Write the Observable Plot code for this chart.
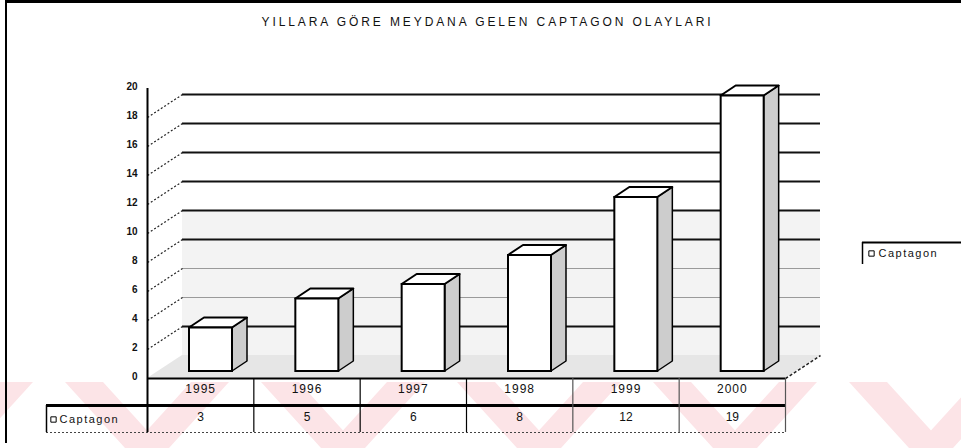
<!DOCTYPE html>
<html>
<head>
<meta charset="utf-8">
<script src="https://cdn.jsdelivr.net/npm/d3@7"></script>
<script src="https://cdn.jsdelivr.net/npm/@observablehq/plot@0.6"></script>
<style>
  html, body { margin: 0; padding: 0; background: #fff; }
  #wrap { position: relative; width: 961px; height: 448px; overflow: hidden; background: #fff; }
  #wm {
    position: absolute; left: 0; top: 382px; width: 961px; height: 66px;
    background-image: url("data:image/svg+xml,%3Csvg xmlns='http://www.w3.org/2000/svg' width='196' height='66'%3E%3Cpolygon points='16,0 54,0 114,66 76,66' fill='%23fce4e7'/%3E%3Cpolygon points='180,0 142,0 82,66 120,66' fill='%23fce4e7'/%3E%3C/svg%3E");
    background-repeat: repeat-x;
    background-position: 49px 0;
  }
  #chart { position: absolute; left: 0; top: 0; }
  #border {
    position: absolute; left: 5px; top: 0; width: 956px; height: 443px;
    border-top: 3px solid #000; border-left: 2px solid #000; box-sizing: border-box;
    pointer-events: none;
  }
</style>
</head>
<body>
<div id="wrap">
  <div id="wm"></div>
  <div id="chart"></div>
  <div id="border"></div>
</div>
<script>
// ---------- data ----------
const title = "YILLARA GÖRE MEYDANA GELEN CAPTAGON OLAYLARI";
const seriesName = "Captagon";
const years = ["1995", "1996", "1997", "1998", "1999", "2000"];
const captagon = [3, 5, 6, 8, 12, 19];
const yTicks = [0, 2, 4, 6, 8, 10, 12, 14, 16, 18, 20];
const gridValues = [2, 4, 6, 8, 10, 12, 14, 16, 18];

// ---------- layout (pixels) ----------
const W = 961, H = 448;
const mL = 147, mR = 176, mT = 88, mB = 70;
const yMax = 20;
const pxX = (W - mL - mR) / years.length;   // px per category
const pxY = (H - mT - mB) / yMax;           // px per unit
const ux = p => p / pxX, uy = p => p / pxY; // pixel offsets -> data units

const WALL_DX = 35, WALL_DY = 23;           // depth of the 3D box
const PLANE_DX = 12, PLANE_DY = 7;          // bar plane inside the box
const BAR_L = 30, BAR_R = 73;               // bar front face inside a slot
const BAR_DX = 15, BAR_DY = 10;             // bar depth
const kx = ux(WALL_DX), ky = uy(WALL_DY);

const ROW1 = 27, ROW2 = 54, KEY_W = 101;

const bars = years.map((year, i) => {
  const v = captagon[i];
  const xl = i + ux(BAR_L + PLANE_DX), xr = i + ux(BAR_R + PLANE_DX);
  const yb = uy(PLANE_DY), yt = v + uy(PLANE_DY);
  return {year, v, xl, xr, yb, yt};
});
const sidePts = bars.flatMap(b => [
  {year: b.year, x: b.xr, y1: b.yb, y2: b.yt},
  {year: b.year, x: b.xr + ux(BAR_DX), y1: b.yb + uy(BAR_DY), y2: b.yt + uy(BAR_DY)}
]);
const topPts = bars.flatMap(b => [
  {year: b.year, y: b.yt, x1: b.xl, x2: b.xr},
  {year: b.year, y: b.yt + uy(BAR_DY), x1: b.xl + ux(BAR_DX), x2: b.xr + ux(BAR_DX)}
]);
const floorPts = [
  {y: 0, x1: 0, x2: years.length},
  {y: ky, x1: kx, x2: years.length + kx}
];

const font = "'Liberation Sans', Arial, sans-serif";
const n = years.length;
const isLight = d => d === 4 || d === 6;

const chart = Plot.plot({
  width: W, height: H,
  marginLeft: mL, marginRight: mR, marginTop: mT, marginBottom: mB,
  x: {domain: [0, n], axis: null},
  y: {domain: [0, yMax], axis: null},
  style: {fontFamily: font, fontSize: "11px", color: "#111", background: "transparent", overflow: "visible"},
  marks: [
    // back wall (lower, speckled part)
    Plot.rect([0], {x1: kx, x2: n + kx, y1: ky, y2: 10 + ky, fill: "#f3f3f3"}),
    // floor
    Plot.areaX(floorPts, {y: "y", x1: "x1", x2: "x2", fill: "#e6e6e6"}),
    // back-wall gridlines
    Plot.ruleY(gridValues, {
      y: d => d + ky, x1: kx, x2: n + kx,
      stroke: d => isLight(d) ? "#9a9a9a" : "#111",
      strokeWidth: d => isLight(d) ? 1 : 2,
      strokeDasharray: d => isLight(d) ? "3,2" : null
    }),
    // side-wall gridlines
    Plot.link(gridValues, {x1: 0, y1: d => d, x2: kx, y2: d => d + ky, stroke: "#222", strokeWidth: 1.2, strokeDasharray: "2,2"}),
    // floor right edge
    Plot.link([0], {x1: n, y1: 0, x2: n + kx, y2: ky, stroke: "#222", strokeWidth: 1.5, strokeDasharray: "3,2"}),
    // bars: side, top, front
    Plot.areaY(sidePts, {x: "x", y1: "y1", y2: "y2", z: "year", fill: "#cdcdcd", stroke: "#000", strokeWidth: 1.5}),
    Plot.areaX(topPts, {y: "y", x1: "x1", x2: "x2", z: "year", fill: "#fff", stroke: "#000", strokeWidth: 2}),
    Plot.rect(bars, {x1: "xl", x2: "xr", y1: "yb", y2: "yt", fill: "#fff", stroke: "#000", strokeWidth: 2}),
    // value axis
    Plot.ruleX([0], {y1: -uy(ROW2), y2: yMax, stroke: "#000", strokeWidth: 2}),
    Plot.text(yTicks, {x: 0, y: d => d, text: d => String(d), dx: -10, dy: -2, textAnchor: "end", fontWeight: "bold", fontSize: 10}),
    // data table
    Plot.ruleY([0], {x1: 0, x2: n, stroke: "#000", strokeWidth: 2}),
    Plot.ruleY([-uy(ROW1)], {x1: -ux(KEY_W), x2: n, stroke: "#000", strokeWidth: 3}),
    Plot.ruleY([-uy(ROW2)], {x1: -ux(KEY_W), x2: n, stroke: "#444", strokeWidth: 1, strokeDasharray: "2,2"}),
    Plot.ruleX(d3.range(1, n + 1), {y1: -uy(ROW2), y2: 0, stroke: d => d >= 4 ? "#555" : "#000", strokeWidth: 1.2, strokeDasharray: d => d >= 4 ? "2,1" : null}),
    Plot.ruleX([-ux(KEY_W)], {y1: -uy(ROW2), y2: -uy(ROW1), stroke: "#000", strokeWidth: 1.5}),
    Plot.text(years, {x: (d, i) => i + 0.5, frameAnchor: "bottom", dy: 14, text: d => d, fontSize: 12}),
    Plot.text(captagon, {x: (d, i) => i + 0.5, frameAnchor: "bottom", dy: 42, text: d => String(d), fontSize: 12}),
    Plot.dot([0], {x: -ux(KEY_W - 7), y: -uy(41), symbol: "square", r: 3, fill: "#fff", stroke: "#000", strokeWidth: 1}),
    Plot.text([seriesName], {x: -ux(KEY_W - 13), y: -uy(41), text: d => d, textAnchor: "start", fontSize: 11}),
    // legend (right)
    Plot.ruleY([uy(H - mB - 242)], {x1: ux(862 - mL), x2: ux(W - mL), stroke: "#000", strokeWidth: 2}),
    Plot.ruleX([ux(862 - mL)], {y1: uy(H - mB - 264), y2: uy(H - mB - 242), stroke: "#000", strokeWidth: 1.5}),
    Plot.dot([0], {x: ux(871 - mL), y: uy(H - mB - 253), symbol: "square", r: 3, fill: "#fff", stroke: "#000", strokeWidth: 1}),
    Plot.text([seriesName], {x: ux(878 - mL), y: uy(H - mB - 253), text: d => d, textAnchor: "start", fontSize: 11}),
    // title
    Plot.text([title], {frameAnchor: "top", dx: 21, dy: -71, text: d => d, fontSize: 12})
  ]
});
document.getElementById("chart").appendChild(chart);

// letter spacing to mimic the wide scanned lettering
const svg = d3.select(chart);
svg.selectAll("text").each(function () {
  const t = this.textContent;
  const s = d3.select(this);
  if (t === title) s.style("letter-spacing", "2.9px");
  else if (t === seriesName) s.style("letter-spacing", "1.5px");
  else if (years.includes(t)) s.style("letter-spacing", "1px");
});
</script>
</body>
</html>
